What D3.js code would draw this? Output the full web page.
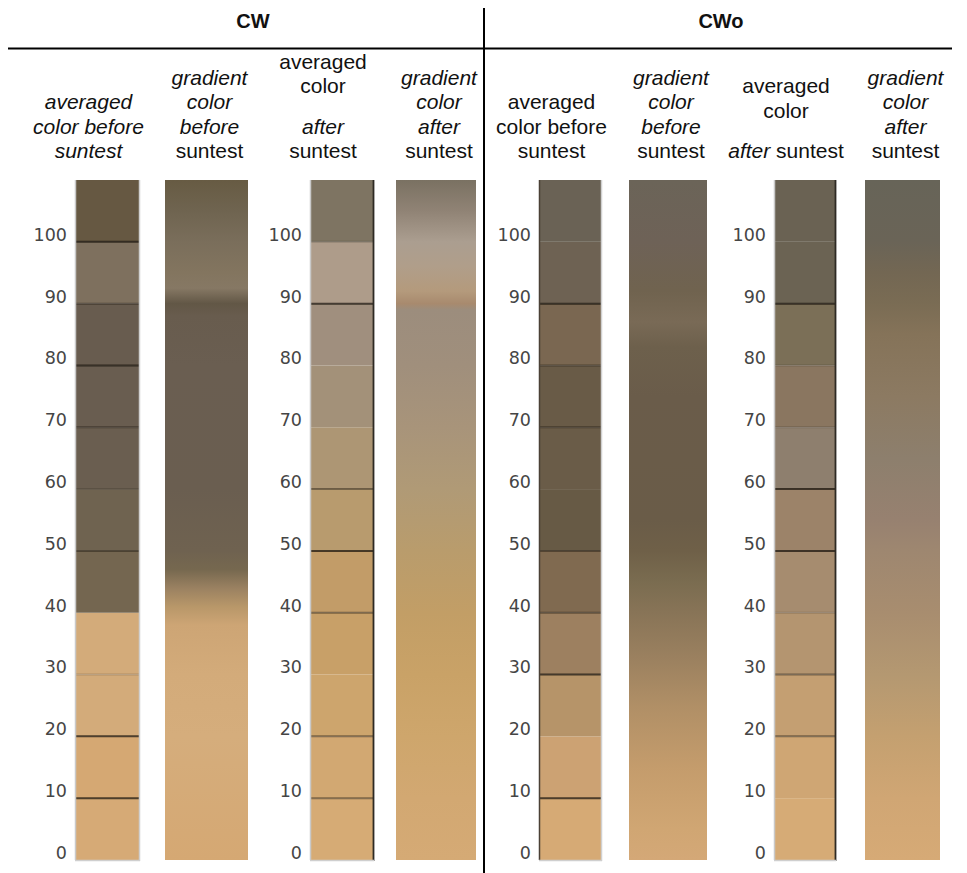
<!DOCTYPE html>
<html>
<head>
<meta charset="utf-8">
<script src="https://cdn.jsdelivr.net/npm/d3@7"></script>
<style>
  html, body { margin: 0; padding: 0; background: #fff; }
  svg { display: block; }
</style>
</head>
<body>
<svg id="chart" width="967" height="873"></svg>
<script>
// ---------------- DATA ----------------
const groups = ["CW", "CWo"];
const yTicks = [0, 10, 20, 30, 40, 50, 60, 70, 80, 90, 100];
const yMax = 110;
const segmentStarts = [0, 10, 20, 30, 40, 50, 60, 70, 80, 90, 100];

// averaged colours, one per 10-unit segment, bottom (0-10) to top (100-110)
const cwBeforeAvg  = ["#d6aa76","#d5a873","#d3ab7a","#d3ab7a","#746650","#6f6350","#6a5e50","#695d50","#685c4f","#7e705e","#665842"];
const cwAfterAvg   = ["#d6ab75","#d2a872","#cda56d","#c8a068","#c29c68","#b89b6e","#ad9674","#a39179","#a08f7e","#ae9c8a","#7e7462"];
const cwoBeforeAvg = ["#d6aa75","#cca273","#b69469","#9d8060","#806a50","#675a45","#6a5c48","#695b47","#7a6751","#6e6253","#6a6255"];
const cwoAfterAvg  = ["#d6ab76","#cfa674","#c49f72","#b49570","#a68c6f","#9c8369","#8e7f6e","#8a7660","#7b6f57","#6b6353","#6a6253"];

// visible separator lines in averaged columns: [value, emphasis 1..3]
const cwBeforeLines  = [[10,3],[20,3],[30,1],[50,2],[60,1],[70,2],[80,3],[90,2],[100,3]];
const cwAfterLines   = [[10,2],[20,2],[40,2],[50,3],[60,2],[90,3],[100,1]];
const cwoBeforeLines = [[10,3],[30,3],[40,2],[50,2],[70,2],[80,2],[90,3]];
const cwoAfterLines  = [[20,2],[30,2],[40,1],[50,3],[60,3],[70,1],[80,1],[90,3]];

// gradient colour stops: [value, colour]
const cwBeforeGrad = [[110,"#675b43"],[105,"#6f6450"],[100,"#7a6e5b"],[95,"#83755f"],[92.5,"#867864"],[90,"#625746"],[88,"#685c4e"],[80,"#6a5e51"],[60,"#6a5e50"],[50,"#6f6250"],[47,"#76684f"],[44,"#9a8161"],[41,"#b89769"],[38,"#cda575"],[30,"#d3ab7a"],[20,"#d5ad7c"],[0,"#d5a873"]];
const cwAfterGrad  = [[110,"#7a7162"],[105,"#908375"],[100,"#ab9e90"],[96,"#b09e8a"],[92,"#b49a7c"],[90,"#a88a6e"],[89,"#9c8d7d"],[80,"#a08f7c"],[70,"#a8947a"],[60,"#b09a76"],[50,"#b99c6c"],[40,"#c29e66"],[30,"#c9a267"],[20,"#cea66c"],[10,"#d2a872"],[0,"#d5aa75"]];
const cwoBeforeGrad = [[110,"#6b6458"],[100,"#6e6257"],[92,"#70634f"],[87,"#796a56"],[83,"#6d604c"],[75,"#6a5c4a"],[55,"#6a5c48"],[50,"#6f6048"],[45,"#7a6c50"],[40,"#887457"],[33,"#9a805f"],[25,"#b08f66"],[15,"#c49c6c"],[5,"#d0a673"],[0,"#d4a877"]];
const cwoAfterGrad  = [[110,"#676458"],[100,"#6a6457"],[95,"#736753"],[90,"#7a6c54"],[85,"#857359"],[75,"#8c7a62"],[65,"#8d7f6d"],[55,"#978170"],[50,"#9e8770"],[40,"#a88d6f"],[30,"#b49871"],[20,"#c4a070"],[10,"#d0a674"],[0,"#d6aa76"]];

// column headers (text between * * is italic; "" is a blank spacer line)
const headers = [
  ["*averaged*", "*color before*", "*suntest*"],
  ["*gradient*", "*color*", "*before*", "suntest"],
  ["averaged", "color", "", "*after*", "suntest"],
  ["*gradient*", "*color*", "*after*", "suntest"],
  ["averaged", "color before", "suntest"],
  ["*gradient*", "*color*", "*before*", "suntest"],
  ["averaged", "color", "", "*after* suntest"],
  ["*gradient*", "*color*", "*after*", "suntest"]
];

const columns = [
  { group: "CW",  kind: "avg",  colors: cwBeforeAvg,  lines: cwBeforeLines },
  { group: "CW",  kind: "grad", stops: cwBeforeGrad },
  { group: "CW",  kind: "avg",  colors: cwAfterAvg,   lines: cwAfterLines },
  { group: "CW",  kind: "grad", stops: cwAfterGrad },
  { group: "CWo", kind: "avg",  colors: cwoBeforeAvg, lines: cwoBeforeLines },
  { group: "CWo", kind: "grad", stops: cwoBeforeGrad },
  { group: "CWo", kind: "avg",  colors: cwoAfterAvg,  lines: cwoAfterLines },
  { group: "CWo", kind: "grad", stops: cwoAfterGrad }
];

// ---------------- LAYOUT ----------------
const svg = d3.select("#chart");
const y = d3.scaleLinear().domain([0, yMax]).range([860, 180]);

const gx = d3.scaleBand().domain(groups).range([75, 75 + 2 * 464]).paddingInner(0);
const slotOffset = [0, 90, 235, 321];
const slotWidth  = [65, 83, 64, 80];
columns.forEach((c, i) => {
  const slot = i % 4;
  const cwo = c.group === "CWo";
  c.slot = slot;
  c.x0 = gx(c.group) + slotOffset[slot] + (cwo && slot === 3 ? 5 : 0);
  c.w = slotWidth[slot] - (cwo && (slot === 0 || slot === 2) ? 2 : 0) - (cwo && slot % 2 === 1 ? 5 : 0);
  c.header = headers[i];
});

const defs = svg.append("defs");
const lineOpacity = [0, 0.18, 0.45, 0.75];

columns.forEach((c, i) => {
  const g = svg.append("g");
  if (c.kind === "avg") {
    g.selectAll("rect.seg").data(c.colors).join("rect")
      .attr("class", "seg")
      .attr("x", c.x0).attr("width", c.w)
      .attr("y", (d, k) => y(segmentStarts[k] + 10))
      .attr("height", (d, k) => y(segmentStarts[k]) - y(segmentStarts[k] + 10))
      .attr("fill", d => d);
    g.selectAll("line.sep").data(c.lines).join("line")
      .attr("class", "sep")
      .attr("x1", c.x0).attr("x2", c.x0 + c.w)
      .attr("y1", d => y(d[0])).attr("y2", d => y(d[0]))
      .attr("stroke", "#1c160e")
      .attr("stroke-opacity", d => lineOpacity[d[1]])
      .attr("stroke-width", 2);
    const leftDark = (c.group === "CWo" && c.slot === 0);
    const rightDark = (c.slot === 2);
    g.append("line").attr("x1", c.x0 + 0.5).attr("x2", c.x0 + 0.5).attr("y1", y(yMax)).attr("y2", y(0))
      .attr("stroke", leftDark ? "#4a4036" : "#c9c9c9").attr("stroke-width", 1.5);
    g.append("line").attr("x1", c.x0 + c.w - 0.5).attr("x2", c.x0 + c.w - 0.5).attr("y1", y(yMax)).attr("y2", y(0) + 1)
      .attr("stroke", rightDark ? "#2e2a24" : "#d0d0d0").attr("stroke-width", rightDark ? 1.8 : 1.5);
    g.append("line").attr("x1", c.x0).attr("x2", c.x0 + c.w).attr("y1", y(0) + 0.5).attr("y2", y(0) + 0.5)
      .attr("stroke", "#cfcfcf").attr("stroke-width", 1.5);

    // axis
    const axis = d3.axisLeft(y).tickValues(yTicks).tickSize(0).tickPadding(0);
    const ag = svg.append("g").attr("transform", `translate(${c.x0 - 8},0)`).call(axis);
    ag.select(".domain").remove();
    ag.selectAll(".tick text")
      .attr("dy", "-0.09em")
      .attr("font-family", "DejaVu Sans, Verdana, sans-serif")
      .attr("font-size", 17.5)
      .attr("fill", "#454545");
  } else {
    const id = "grad" + i;
    const lg = defs.append("linearGradient").attr("id", id)
      .attr("gradientUnits", "userSpaceOnUse")
      .attr("x1", 0).attr("x2", 0).attr("y1", y(yMax)).attr("y2", y(0));
    lg.selectAll("stop").data(c.stops).join("stop")
      .attr("offset", d => (yMax - d[0]) / yMax)
      .attr("stop-color", d => d[1]);
    g.append("rect").attr("x", c.x0).attr("width", c.w)
      .attr("y", y(yMax)).attr("height", y(0) - y(yMax))
      .attr("fill", `url(#${id})`);
  }

  // header text, bottom-aligned
  const cx = c.x0 + c.w / 2 + (c.kind === "avg" ? -19 : 3);
  const lineH = 24.5, blankH = 16;
  const baselines = [];
  let b = 158;
  for (let k = c.header.length - 1; k >= 0; k--) {
    baselines[k] = b;
    if (k > 0) b -= (c.header[k - 1] === "" ? blankH : lineH);
  }
  c.header.forEach((line, k) => {
    if (line === "") return;
    const t = svg.append("text")
      .attr("x", cx).attr("y", baselines[k])
      .attr("text-anchor", "middle")
      .attr("font-family", "Liberation Sans, Arial, sans-serif")
      .attr("font-size", 21)
      .attr("fill", "#111");
    line.split("*").forEach((p, j) => {
      if (p === "") return;
      t.append("tspan").text(p).attr("font-style", j % 2 === 1 ? "italic" : "normal");
    });
  });
});

// group titles
svg.selectAll("text.group").data(groups).join("text")
  .attr("class", "group")
  .attr("x", (d, i) => gx(d) + 178 + i * 4)
  .attr("y", 28)
  .attr("text-anchor", "middle")
  .attr("font-family", "Liberation Sans, Arial, sans-serif")
  .attr("font-weight", "bold")
  .attr("font-size", 20)
  .attr("fill", "#111")
  .text(d => d);

// frame lines
svg.append("line").attr("x1", 8).attr("x2", 952).attr("y1", 48.5).attr("y2", 48.5)
  .attr("stroke", "#000").attr("stroke-width", 2);
svg.append("line").attr("x1", 484).attr("x2", 484).attr("y1", 8).attr("y2", 873)
  .attr("stroke", "#000").attr("stroke-width", 2);
</script>
</body>
</html>
